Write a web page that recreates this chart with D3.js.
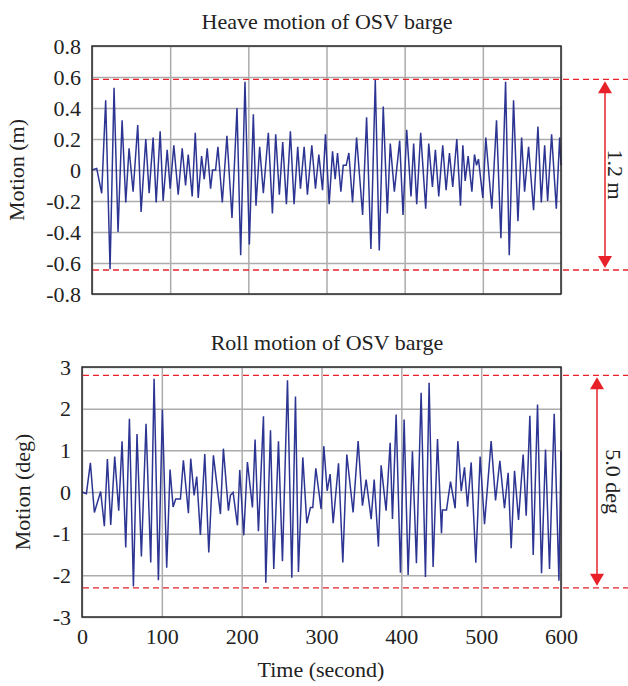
<!DOCTYPE html>
<html>
<head>
<meta charset="utf-8">
<script src="https://cdn.jsdelivr.net/npm/d3@7"></script>
<style>
  body { margin: 0; background: #fff; }
  text { font-family: "Liberation Serif", "Times New Roman", serif; fill: #222; }
</style>
</head>
<body>
<div id="chart"></div>
<script>
var width = 628; var height = 686;

// Heave time series (s, m)
var heaveT = [0, 6, 12.4, 17.5, 23.1, 28.2, 33.3, 38.5, 43.2, 47.4,
	52.6, 58.5, 62.8, 68.8, 73.1, 78.2, 82.1, 87.2, 91, 96.2,
	100, 104.7, 110.3, 115.4, 119.7, 123.1, 128.2, 132.1, 135.9, 140.2,
	143.6, 147.4, 151.7, 154.3, 158.1, 161.1, 166.7, 172.6, 179.1, 185.5,
	190.2, 195.7, 201.3, 206.4, 209.8, 214.5, 219.2, 225.6, 230.8, 235,
	239.7, 244, 248.7, 253.8, 258.5, 263.2, 266.7, 271.4, 275.6, 281.2,
	285.9, 290.2, 294.9, 298.7, 303.4, 307.7, 311.1, 314.1, 318.4, 321.4,
	325.2, 328.6, 333.3, 338.5, 346.2, 351.3, 356.8, 362.4, 367.5, 372.6,
	377.8, 381.6, 386.8, 393.6, 397.9, 402.6, 408.1, 411.5, 415.4, 420.5,
	426.9, 430.8, 435.5, 439.3, 443.6, 448.7, 453, 457.3, 461.5, 466.7,
	471.4, 474.4, 477.4, 481.2, 486, 489.3, 491.9, 494.4, 500, 503.8,
	511.5, 517.5, 523.1, 529.1, 533.8, 539.3, 544.9, 549.6, 553.4, 558.5,
	564.9, 570.5, 574.8, 579.1, 582.9, 588, 594, 598.3, 600];
var heaveV = [0, 0.01, -0.15, 0.45, -0.64, 0.53, -0.40, 0.32, -0.21, 0.14,
	-0.14, 0.29, -0.27, 0.20, -0.15, 0.21, -0.21, 0.25, -0.20, 0.13,
	-0.12, 0.16, -0.16, 0.14, -0.10, 0.10, -0.17, 0.24, -0.18, 0.09,
	-0.06, 0.14, -0.12, 0, 0, 0.15, -0.21, 0.22, -0.31, 0.40,
	-0.55, 0.57, -0.48, 0.36, -0.23, 0.15, -0.15, 0.24, -0.28, 0.23,
	-0.16, 0.18, -0.22, 0.25, -0.22, 0.15, -0.12, 0.15, -0.16, 0.16,
	-0.12, 0.10, -0.13, 0.23, -0.22, 0.12, -0.06, 0.11, -0.14, 0.03,
	0.03, 0.11, -0.21, 0.21, -0.29, 0.34, -0.51, 0.58, -0.52, 0.41,
	-0.28, 0.17, -0.14, 0.19, -0.29, 0.26, -0.17, 0.17, -0.22, 0.24,
	-0.25, 0.17, -0.11, 0.13, -0.17, 0.16, -0.13, 0.11, -0.11, 0.20,
	-0.23, 0.16, -0.07, 0.09, -0.14, 0.10, 0.03, 0.07, -0.18, 0.21,
	-0.25, 0.32, -0.44, 0.57, -0.55, 0.45, -0.33, 0.21, -0.14, 0.15,
	-0.26, 0.28, -0.21, 0.16, -0.20, 0.23, -0.25, 0.21, 0.03];

// Roll time series (s, deg)
var rollT = [0, 5.5, 10.5, 15.5, 23.4, 28, 31.8, 36, 41, 46,
	50.2, 54.8, 59.4, 64.4, 68.9, 74.4, 80.2, 86.1, 90.3, 95.7,
	100.7, 106.1, 110.3, 114.1, 117.4, 123.3, 127, 133.3, 136.2, 140.4,
	143.7, 148.3, 153.8, 158.8, 164.6, 173.4, 177.1, 183.4, 185.9, 189.3,
	194.7, 197.6, 202.6, 207.2, 213.5, 216.8, 221, 227.3, 230.2, 236.1,
	240.2, 246.1, 251.1, 257.4, 262.8, 267.4, 271.1, 276.6, 281.6, 286.2,
	289.1, 292.9, 299.5, 302.9, 307.1, 310.8, 314.6, 321.3, 326.7, 331.7,
	339.6, 345.9, 351.3, 355.9, 362.2, 366, 371.3, 374.7, 380.9, 386,
	388.9, 393.5, 398.9, 403.5, 408.5, 413.9, 418.9, 424.8, 430.2, 434.8,
	439.8, 445.3, 450.3, 451.5, 456.6, 461.6, 467.4, 470.8, 475, 479.1,
	482.9, 487.5, 493.3, 498.7, 504.2, 512.5, 518, 523.4, 529.2, 533.8,
	537.6, 541.8, 546.8, 552.6, 556.4, 561, 565.2, 570.6, 575.6, 580.6,
	585.6, 591.5, 597.4, 600];
var rollV = [0, -0.04, 0.70, -0.49, 0.01, -0.82, 0.79, -0.79, 0.85, -0.45,
	1.22, -1.33, 1.76, -2.27, 1.39, -1.55, 1.64, -1.69, 2.72, -2.12,
	1.98, -1.82, 0.54, -0.36, -0.17, -0.17, 0.76, -0.51, 0.80, -0.08,
	0.37, -1.03, 0.91, -1.45, 0.88, -0.53, 1.04, -0.45, -0.08, -0.01,
	-0.80, 0.53, -1.04, 0.72, -0.37, 1.26, -0.94, 1.82, -2.18, 1.48,
	-1.85, 1.22, -1.66, 2.68, -2.06, 2.29, -1.92, 0.83, -0.75, -0.37,
	-0.37, 0.57, -0.41, 1.10, 0.03, 0.43, -0.75, 0.69, -1.69, 0.90,
	-0.49, 1.22, -0.33, 0.30, -0.65, 0.30, -1.31, 0.64, -0.45, 1.18,
	-0.65, 1.86, -1.94, 1.74, -1.99, 0.98, -1.71, 2.38, -2.04, 2.62,
	-1.80, 1.27, -0.99, -0.43, -0.43, 0.25, -0.39, 1.22, 0.02, 0.59,
	-0.35, 0.71, -1.70, 0.85, -0.77, 1.22, -0.20, 0.75, -0.39, 0.46,
	-1.35, 0.51, -0.67, 0.90, -0.57, 1.83, -1.51, 2.10, -1.95, 1.02,
	-1.85, 1.88, -2.13, 0.98];

// Range markers and tick values
var heaveRange = [-0.645, 0.585]; var heaveRangeLabel = "1.2 m";
var rollRange = [-2.3, 2.8]; var rollRangeLabel = "5.0 deg";
var heaveTicks = [-0.8, -0.6, -0.4, -0.2, 0, 0.2, 0.4, 0.6, 0.8];
var rollTicks = [-3, -2, -1, 0, 1, 2, 3];
var timeTicks = [0, 100, 200, 300, 400, 500, 600];

var svg = d3.select("#chart").append("svg")
	.attr("width", width)
	.attr("height", height);

drawPanel({
	left: 92, right: 561, top: 46, bottom: 294,
	yDomain: [-0.8, 0.8], yTicks: heaveTicks,
	fmt: function(d) { return d === 0 ? "0" : d.toFixed(1); },
	t: heaveT, v: heaveV, range: heaveRange, rangeLabel: heaveRangeLabel,
	arrowX: 605, labelX: 608,
	title: "Heave motion of OSV barge", titleY: 29,
	yLabel: "Motion (m)", yLabelX: 24, xLabels: false
});

drawPanel({
	left: 82, right: 561, top: 367, bottom: 617,
	yDomain: [-3, 3], yTicks: rollTicks,
	fmt: function(d) { return String(d); },
	t: rollT, v: rollV, range: rollRange, rangeLabel: rollRangeLabel,
	arrowX: 597, labelX: 606,
	title: "Roll motion of OSV barge", titleY: 350,
	yLabel: "Motion (deg)", yLabelX: 30, xLabels: true
});

svg.append("text")
	.attr("x", 321).attr("y", 677)
	.attr("text-anchor", "middle")
	.style("font-size", "22px")
	.text("Time (second)");

///////////////////////////////////////////////////////////////////////////
// One panel: grid, range lines, series, frame, arrow and labels
function drawPanel(c) {
	var x = d3.scaleLinear().domain([0, 600]).range([c.left, c.right]);
	var y = d3.scaleLinear().domain(c.yDomain).range([c.bottom, c.top]);
	var w = c.right - c.left; var h = c.bottom - c.top;
	var g = svg.append("g");

	// vertical grid
	g.append("g")
		.attr("transform", "translate(0," + c.bottom + ")")
		.call(d3.axisBottom(x).tickValues(timeTicks).tickSize(-h).tickFormat(""))
		.call(function(a) {
			a.select(".domain").remove();
			a.selectAll("line").attr("stroke", "#acacac").attr("stroke-width", 1.5);
		});

	// horizontal grid
	g.append("g")
		.attr("transform", "translate(" + c.left + ",0)")
		.call(d3.axisLeft(y).tickValues(c.yTicks).tickSize(-w).tickFormat(""))
		.call(function(a) {
			a.select(".domain").remove();
			a.selectAll("line").attr("stroke", "#acacac").attr("stroke-width", 1.5);
		});

	// y tick labels
	g.append("g")
		.attr("transform", "translate(" + (c.left - 11) + ",0)")
		.call(d3.axisLeft(y).tickValues(c.yTicks).tickSize(0).tickPadding(0).tickFormat(c.fmt))
		.call(function(a) {
			a.select(".domain").remove();
			a.selectAll("text")
				.attr("font-family", null).attr("fill", "#222")
				.style("font-size", "22px");
		});

	if (c.xLabels) {
		g.append("g")
			.attr("transform", "translate(0," + c.bottom + ")")
			.call(d3.axisBottom(x).tickValues(timeTicks).tickSize(0).tickPadding(0))
			.call(function(a) {
				a.select(".domain").remove();
				a.selectAll("text")
					.attr("font-family", null).attr("fill", "#222")
					.attr("dy", null).attr("y", 27)
					.style("font-size", "22px");
			});
	}

	// red dashed range lines
	g.selectAll(".range")
		.data(c.range).enter()
		.append("line")
		.attr("x1", c.left + 1).attr("x2", width)
		.attr("y1", function(d) { return y(d); })
		.attr("y2", function(d) { return y(d); })
		.attr("stroke", "#e8202a").attr("stroke-width", 1.3)
		.attr("stroke-dasharray", "6,4");

	// series
	var pts = c.t.map(function(t, i) { return [t, c.v[i]]; });
	var line = d3.line()
		.x(function(d) { return x(d[0]); })
		.y(function(d) { return y(d[1]); });
	g.append("path")
		.datum(pts)
		.attr("d", line)
		.attr("fill", "none")
		.attr("stroke", "#2d3593")
		.attr("stroke-width", 1.5)
		.attr("stroke-linejoin", "miter");

	// frame
	g.append("rect")
		.attr("x", c.left).attr("y", c.top)
		.attr("width", w).attr("height", h)
		.attr("fill", "none").attr("stroke", "#2a2a2a").attr("stroke-width", 1.5);

	// double arrow between range lines
	var yTop = y(c.range[1]) + 2; var yBot = y(c.range[0]) - 2;
	g.append("line")
		.attr("x1", c.arrowX).attr("x2", c.arrowX)
		.attr("y1", yTop + 8).attr("y2", yBot - 8)
		.attr("stroke", "#e8202a").attr("stroke-width", 1.5);
	g.append("path")
		.attr("d", "M" + c.arrowX + "," + yTop + "L" + (c.arrowX - 7) + "," + (yTop + 12) +
			"L" + (c.arrowX + 7) + "," + (yTop + 12) + "Z" +
			"M" + c.arrowX + "," + yBot + "L" + (c.arrowX - 7) + "," + (yBot - 12) +
			"L" + (c.arrowX + 7) + "," + (yBot - 12) + "Z")
		.attr("fill", "#e8202a");

	var midY = (yTop + yBot) / 2;
	g.append("text")
		.attr("transform", "translate(" + c.labelX + "," + midY + ") rotate(90)")
		.attr("text-anchor", "middle")
		.style("font-size", "22px")
		.text(c.rangeLabel);

	// title and y label
	g.append("text")
		.attr("x", 327).attr("y", c.titleY)
		.attr("text-anchor", "middle")
		.style("font-size", "22px")
		.text(c.title);

	g.append("text")
		.attr("transform", "translate(" + c.yLabelX + "," + ((c.top + c.bottom) / 2) + ") rotate(-90)")
		.attr("text-anchor", "middle")
		.style("font-size", "22px")
		.text(c.yLabel);
}
</script>
</body>
</html>
